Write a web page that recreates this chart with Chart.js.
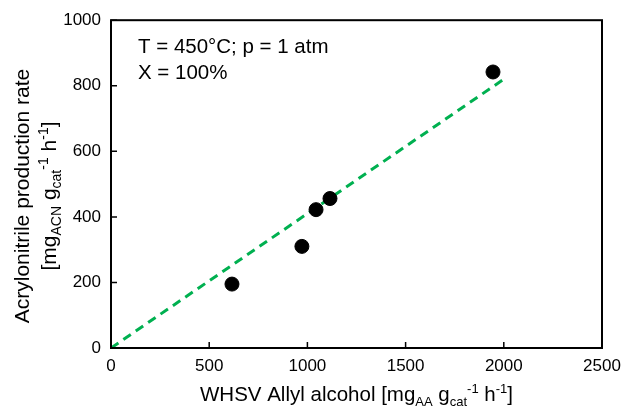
<!DOCTYPE html>
<html>
<head>
<meta charset="utf-8">
<script src="https://cdn.jsdelivr.net/npm/chart.js@4.4.0/dist/chart.umd.min.js"></script>
<style>
  html, body { margin: 0; padding: 0; background: #fff; }
  #wrap { width: 622px; height: 406px; }
</style>
</head>
<body>
<div id="wrap"><canvas id="rateChart"></canvas></div>
<script>
// --- Data ---
const whsv = [616, 972, 1044, 1115, 1945];
const rate = [195, 310, 422, 456, 842];
const fitX = [0, 2000];
const fitY = [0, 820];
const xTicks = [0, 500, 1000, 1500, 2000, 2500];
const yTicks = [0, 200, 400, 600, 800, 1000];
const noteLines = ['T = 450°C; p = 1 atm', 'X = 100%'];

const FONT = '"Liberation Sans", Arial, sans-serif';

// draws a list of segments, some of them as sub/superscript
function drawRich(ctx, parts, x, y, size, align) {
    const small = Math.round(size * 0.65);
    const widths = parts.map(p => {
        ctx.font = (p.sub || p.sup ? small : size) + 'px ' + FONT;
        return ctx.measureText(p.t).width;
    });
    const total = widths.reduce((a, b) => a + b, 0);
    let cx = align === 'center' ? x - total / 2 : x;
    ctx.textAlign = 'left';
    ctx.textBaseline = 'alphabetic';
    parts.forEach((p, i) => {
        ctx.font = (p.sub || p.sup ? small : size) + 'px ' + FONT;
        let dy = 0;
        if (p.sub) dy = size * 0.25;
        if (p.sup) dy = -size * 0.38;
        ctx.fillText(p.t, cx, y + dy);
        cx += widths[i];
    });
}

const yTitle2 = [
    { t: '[mg' }, { t: 'ACN', sub: true }, { t: ' g' }, { t: 'cat', sub: true },
    { t: '-1', sup: true }, { t: ' h' }, { t: '-1', sup: true }, { t: ']' }
];
const xTitle = [
    { t: 'WHSV Allyl alcohol [mg' }, { t: 'AA', sub: true }, { t: ' g' }, { t: 'cat', sub: true },
    { t: '-1', sup: true }, { t: ' h' }, { t: '-1', sup: true }, { t: ']' }
];

// frame, inward ticks, axis titles and the condition note
const framePlugin = {
    id: 'frame',
    afterDraw(chart) {
        const { ctx, chartArea: a, scales } = chart;
        ctx.save();
        ctx.strokeStyle = '#000';
        ctx.lineWidth = 2;
        ctx.strokeRect(a.left, a.top, a.right - a.left, a.bottom - a.top);

        ctx.lineWidth = 1.5;
        ctx.beginPath();
        xTicks.forEach(v => {
            const px = scales.x.getPixelForValue(v);
            ctx.moveTo(px, a.bottom);
            ctx.lineTo(px, a.bottom - 6);
        });
        yTicks.forEach(v => {
            const py = scales.y.getPixelForValue(v);
            ctx.moveTo(a.left, py);
            ctx.lineTo(a.left + 6, py);
        });
        ctx.stroke();

        ctx.fillStyle = '#000';
        ctx.font = '20.5px ' + FONT;
        ctx.textAlign = 'left';
        ctx.textBaseline = 'alphabetic';
        noteLines.forEach((l, i) => ctx.fillText(l, 138, 53 + i * 26));

        drawRich(ctx, xTitle, (a.left + a.right) / 2, 401, 20.5, 'center');

        ctx.translate(29, 196);
        ctx.rotate(-Math.PI / 2);
        ctx.font = '21px ' + FONT;
        ctx.textAlign = 'center';
        ctx.fillText('Acrylonitrile production rate', 0, 0);
        ctx.restore();

        ctx.save();
        ctx.translate(56, 196);
        ctx.rotate(-Math.PI / 2);
        ctx.fillStyle = '#000';
        drawRich(ctx, yTitle2, 0, 0, 21, 'center');
        ctx.restore();
    }
};

const ctx = document.getElementById('rateChart').getContext('2d');
new Chart(ctx, {
    type: 'scatter',
    data: {
        datasets: [
            {
                label: 'fit',
                type: 'line',
                data: fitX.map((x, i) => ({ x: x, y: fitY[i] })),
                borderColor: '#00B050',
                borderWidth: 3,
                borderDash: [9, 6],
                pointRadius: 0,
                fill: false,
                order: 2
            },
            {
                label: 'data',
                data: whsv.map((x, i) => ({ x: x, y: rate[i] })),
                backgroundColor: '#000',
                borderColor: '#000',
                pointRadius: 7,
                order: 1
            }
        ]
    },
    options: {
        responsive: true,
        maintainAspectRatio: false,
        animation: false,
        layout: { padding: { top: 19, right: 0, left: 0, bottom: 0 } },
        plugins: { legend: { display: false }, tooltip: { enabled: false } },
        scales: {
            x: {
                type: 'linear',
                min: 0, max: 2500,
                afterBuildTicks: s => { s.ticks = xTicks.map(v => ({ value: v })); },
                afterFit: s => { s.height = 58; s.paddingRight = 20; },
                grid: { display: false, drawTicks: false },
                border: { display: false },
                ticks: { color: '#000', font: { family: FONT, size: 17 }, padding: 8, maxRotation: 0,
                         callback: v => String(v) }
            },
            y: {
                type: 'linear',
                min: 0, max: 1000,
                afterBuildTicks: s => { s.ticks = yTicks.map(v => ({ value: v })); },
                afterFit: s => { s.width = 111; },
                grid: { display: false, drawTicks: false },
                border: { display: false },
                ticks: { color: '#000', font: { family: FONT, size: 17 }, padding: 10,
                         callback: v => String(v) }
            }
        }
    },
    plugins: [framePlugin]
});
</script>
</body>
</html>
